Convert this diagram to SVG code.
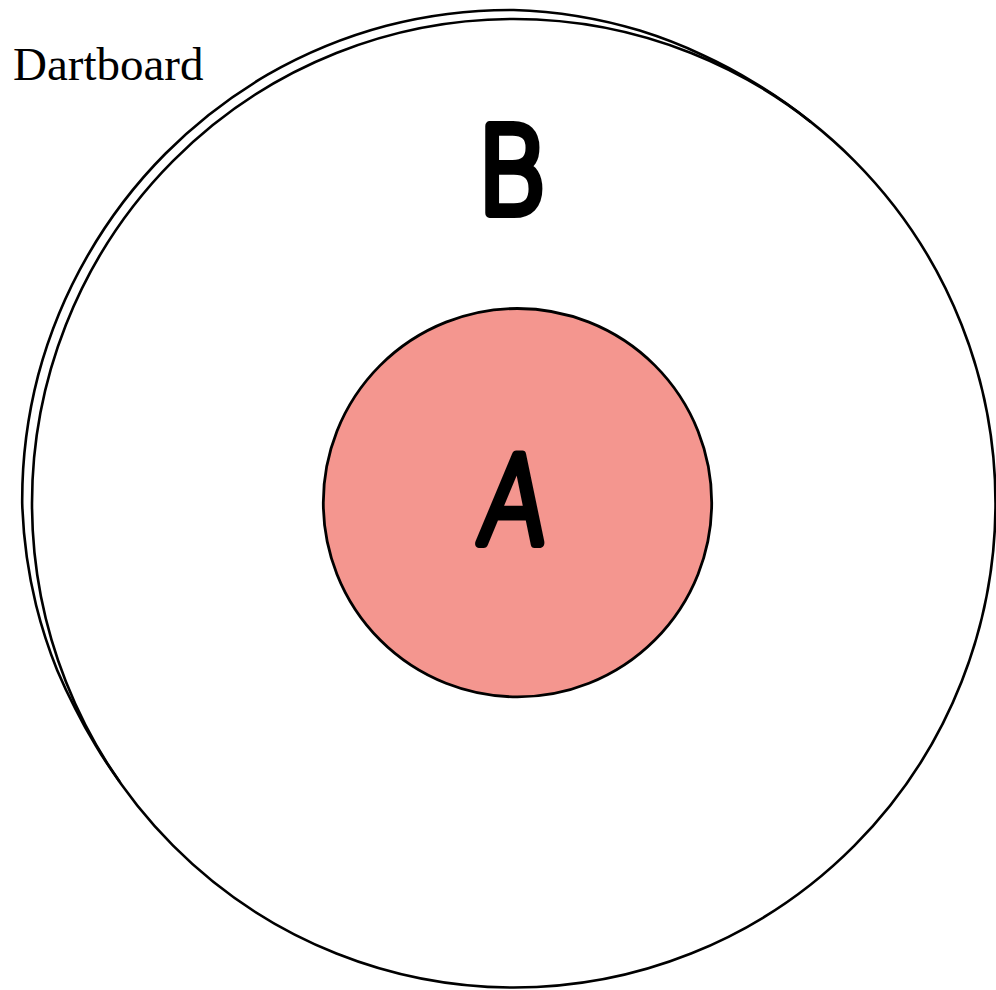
<svg xmlns="http://www.w3.org/2000/svg" width="996" height="990" viewBox="0 0 996 990">
<style>
.line{fill:none;stroke:#000;stroke-width:2.6;stroke-linecap:round;stroke-linejoin:round}
.hand{font-family:"DejaVu Sans","Noto Sans",sans-serif;font-weight:200;font-size:120px;fill:#000;stroke:#000;stroke-width:10;stroke-linejoin:round;stroke-linecap:round;text-anchor:middle}
.title{font-family:"Liberation Serif","Times New Roman",serif;font-size:47px;fill:#000}
</style>
<rect width="996" height="990" fill="#fff"/>
<g id="dartboard">
<ellipse class="line" cx="513.75" cy="503.25" rx="481.75" ry="484.25"/>
<path class="line" d="M810.4,121.7 A482,484 0 0 0 755.1,83.1 A484,486 0 0 0 703,55.2 A487,489 0 0 0 639.8,30.6 A490,492 0 0 0 513.75,10 A492,494 0 0 0 386.4,25.8 A492,494 0 0 0 267.6,74.7 A492,494 0 0 0 165.6,153.5 A492,494 0 0 0 87.5,255.9 A492,494 0 0 0 38.2,375.2 A492,494 0 0 0 22.2,503.25 A490,492 0 0 0 36.1,605.3 A487,489 0 0 0 57.2,670.3 A485,487 0 0 0 75.4,708.8 A483,485 0 0 0 95.9,745.7 A482,484 0 0 0 119.1,781"/>
<text class="title" x="13" y="80">Dartboard</text>
</g>
<g id="B">
<text class="hand" transform="translate(511,212.5) scale(0.87,1)" x="0" y="0">B</text>
</g>
<g id="A">
<circle cx="517.5" cy="502.7" r="194.2" fill="#f4968f" stroke="#000" stroke-width="2.8"/>
<text class="hand" transform="translate(510,542.5) skewX(-6) scale(0.82,1)" x="0" y="0">A</text>
</g>
</svg>
